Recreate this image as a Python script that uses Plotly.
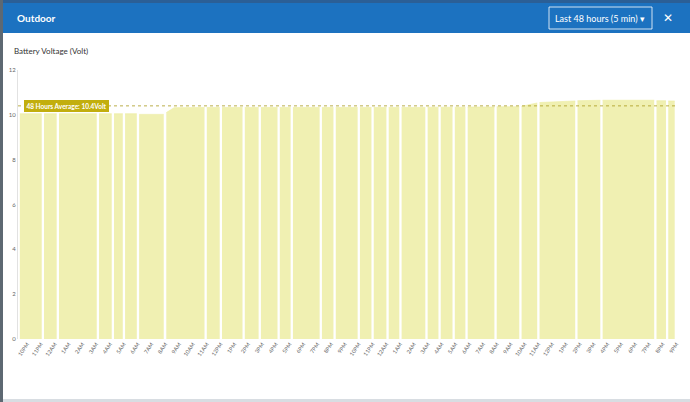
import plotly.graph_objects as go

# battery voltage readings, None marks a gap in the logging
times = [
    "2021-06-14 21:28", "2021-06-14 23:03", None,
    "2021-06-14 23:13", "2021-06-15 00:08", None,
    "2021-06-15 00:18", "2021-06-15 03:02", None,
    "2021-06-15 03:12", "2021-06-15 04:07", None,
    "2021-06-15 04:17", "2021-06-15 04:55", None,
    "2021-06-15 05:05", "2021-06-15 05:56", None,
    "2021-06-15 06:06", "2021-06-15 07:53", None,
    "2021-06-15 08:04", "2021-06-15 08:38", "2021-06-15 10:50", None,
    "2021-06-15 11:00", "2021-06-15 11:56", None,
    "2021-06-15 12:06", "2021-06-15 13:35", None,
    "2021-06-15 13:45", "2021-06-15 14:45", None,
    "2021-06-15 14:55", "2021-06-15 16:07", None,
    "2021-06-15 16:17", "2021-06-15 17:04", None,
    "2021-06-15 17:14", "2021-06-15 19:10", None,
    "2021-06-15 19:20", "2021-06-15 20:10", None,
    "2021-06-15 20:20", "2021-06-15 21:55", None,
    "2021-06-15 22:05", "2021-06-15 22:55", None,
    "2021-06-15 23:05", "2021-06-16 00:00", None,
    "2021-06-16 00:10", "2021-06-16 00:56", None,
    "2021-06-16 01:06", "2021-06-16 02:49", None,
    "2021-06-16 02:59", "2021-06-16 03:46", None,
    "2021-06-16 03:56", "2021-06-16 04:47", None,
    "2021-06-16 04:57", "2021-06-16 05:43", None,
    "2021-06-16 05:53", "2021-06-16 07:49", None,
    "2021-06-16 07:59", "2021-06-16 09:37", None,
    "2021-06-16 09:47", "2021-06-16 10:50", "2021-06-16 10:55", None,
    "2021-06-16 11:05", "2021-06-16 12:30", "2021-06-16 13:40", None,
    "2021-06-16 13:50", "2021-06-16 15:29", None,
    "2021-06-16 15:39", "2021-06-16 19:23", None,
    "2021-06-16 19:33", "2021-06-16 20:14", None,
    "2021-06-16 20:24", "2021-06-16 20:52",
]
volts = [
    10.05, 10.05, None,
    10.05, 10.05, None,
    10.05, 10.05, None,
    10.05, 10.05, None,
    10.05, 10.05, None,
    10.05, 10.05, None,
    10.02, 10.02, None,
    10.10, 10.32, 10.33, None,
    10.33, 10.33, None,
    10.33, 10.33, None,
    10.33, 10.33, None,
    10.33, 10.33, None,
    10.33, 10.33, None,
    10.33, 10.33, None,
    10.33, 10.33, None,
    10.33, 10.33, None,
    10.33, 10.33, None,
    10.33, 10.33, None,
    10.33, 10.33, None,
    10.33, 10.33, None,
    10.34, 10.34, None,
    10.34, 10.34, None,
    10.34, 10.34, None,
    10.35, 10.35, None,
    10.36, 10.36, None,
    10.38, 10.52, 10.53, None,
    10.55, 10.60, 10.62, None,
    10.63, 10.65, None,
    10.65, 10.65, None,
    10.63, 10.63, None,
    10.62, 10.62,
]
average = 10.4
x_range = ["2021-06-14 21:20", "2021-06-16 21:02"]
first_tick = "2021-06-14 22:00"
y_ticks = [0, 2, 4, 6, 8, 10, 12]

FILL = "rgb(240,240,178)"
GOLD = "#c2ae0e"
BLUE = "#1c72c0"

# plot area in pixels: x 18..677, y 70..339
def px(x):
    return (x - 18) / 659

def py(y):
    return (339 - y) / 269


def split_segments(xs, ys):
    """None 기준으로 구간 분리"""
    segs, cur_x, cur_y = [], [], []
    for x, y in zip(xs, ys):
        if x is None:
            segs.append((cur_x, cur_y))
            cur_x, cur_y = [], []
        else:
            cur_x.append(x)
            cur_y.append(y)
    if cur_x:
        segs.append((cur_x, cur_y))
    return segs


fig = go.Figure()

for sx, sy in split_segments(times, volts):
    fig.add_trace(go.Scatter(
        x=sx, y=sy,
        mode="lines", fill="tozeroy", fillcolor=FILL,
        line=dict(width=0.6, color="rgb(236,236,160)"),
        hoverinfo="skip", showlegend=False,
    ))

# average line + label
fig.add_shape(type="line", xref="paper", yref="y",
              x0=0, x1=1, y0=average, y1=average,
              line=dict(color="#a99b1c", width=0.8, dash="dot"))
fig.add_annotation(xref="paper", yref="y", x=px(24), y=average,
                   xanchor="left", yanchor="middle", showarrow=False,
                   text=f"<b>48 Hours Average: {average}Volt</b>",
                   font=dict(family="Lato", size=6.5, color="white"),
                   bgcolor=GOLD, bordercolor=GOLD, borderpad=1.5)

# modal chrome
fig.add_shape(type="rect", xref="paper", yref="paper",
              x0=px(0), x1=px(3), y0=py(402), y1=py(0),
              fillcolor="#5d6872", line_width=0)
fig.add_shape(type="rect", xref="paper", yref="paper",
              x0=px(3), x1=px(690), y0=py(3), y1=py(0),
              fillcolor="#2b5f96", line_width=0)
fig.add_shape(type="rect", xref="paper", yref="paper",
              x0=px(3), x1=px(690), y0=py(402), y1=py(399),
              fillcolor="#d8dde2", line_width=0)
fig.add_shape(type="rect", xref="paper", yref="paper",
              x0=px(3), x1=px(690), y0=py(33), y1=py(3),
              fillcolor=BLUE, line_width=0)
fig.add_shape(type="rect", xref="paper", yref="paper",
              x0=px(549), x1=px(652), y0=py(29), y1=py(7),
              fillcolor=BLUE, line=dict(color="rgba(255,255,255,0.8)", width=1))

fig.add_annotation(xref="paper", yref="paper", x=px(15), y=py(18),
                   xanchor="left", yanchor="middle", showarrow=False,
                   text="<b>Outdoor</b>",
                   font=dict(family="Lato", size=10, color="white"))
fig.add_annotation(xref="paper", yref="paper", x=px(600), y=py(18),
                   xanchor="center", yanchor="middle", showarrow=False,
                   text="Last 48 hours (5 min) ▾",
                   font=dict(family="Lato", size=9, color="white"))
fig.add_annotation(xref="paper", yref="paper", x=px(668), y=py(18),
                   xanchor="center", yanchor="middle", showarrow=False,
                   text="✕",
                   font=dict(family="DejaVu Sans", size=12, color="white"))
fig.add_annotation(xref="paper", yref="paper", x=px(12), y=py(51),
                   xanchor="left", yanchor="middle", showarrow=False,
                   text="Battery Voltage (Volt)",
                   font=dict(family="Lato", size=8, color="#333333"))

fig.update_xaxes(
    type="date", range=x_range, automargin=False,
    tick0=first_tick, dtick=3600000, tickformat="%-I%p",
    tickangle=-55, tickfont=dict(family="Lato", size=5.5, color="#666666"),
    showgrid=False, zeroline=False, showline=False, ticks="",
)
fig.update_yaxes(
    range=[0, 12], tickvals=y_ticks, automargin=False,
    tickfont=dict(family="Lato", size=6, color="#666666"),
    showgrid=False, zeroline=False,
    showline=True, linecolor="#e2e2e2", linewidth=1, ticks="",
)

fig.update_layout(
    width=690, height=402,
    margin=dict(l=18, r=13, t=70, b=63),
    paper_bgcolor="white", plot_bgcolor="white",
    font=dict(family="Lato"),
)

fig.write_html("out.html", config={"displayModeBar": False},
               post_script="document.body.style.margin='0';")
